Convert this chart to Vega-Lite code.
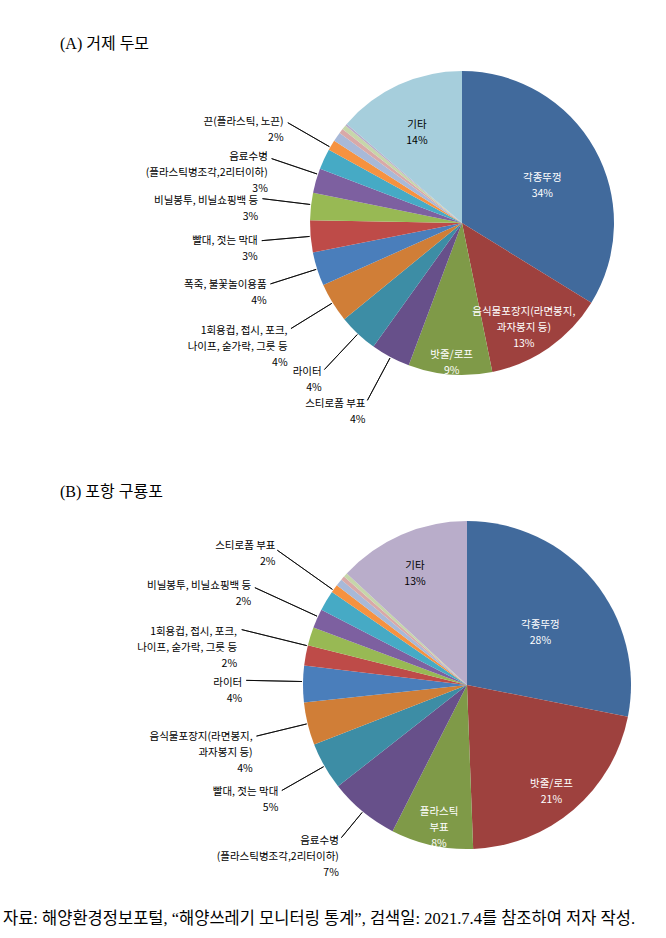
{
  "$schema": "https://vega.github.io/schema/vega-lite/v6.json",
  "padding": {"left": 3, "top": 36, "right": 5, "bottom": 5},
  "background": "#ffffff",
  "bounds": "flush",
  "spacing": 146,
  "config": {"view": {"stroke": null}},
  "title": {
    "text": "자료: 해양환경정보포털, “해양쓰레기 모니터링 통계”, 검색일: 2021.7.4를 참조하여 저자 작성.",
    "orient": "bottom", "anchor": "start", "frame": "group",
    "dx": -297, "offset": 33,
    "font": "Liberation Serif, Noto Sans CJK KR", "fontSize": 16.5, "fontWeight": "normal", "color": "#000000"
  },
  "vconcat": [
    {
      "width": 324, "height": 304,
      "title": {"text": "(A) 거제 두모", "anchor": "start", "frame": "group", "dx": -240, "offset": 18,
        "font": "Liberation Serif, Noto Sans CJK KR", "fontSize": 16, "fontWeight": "normal", "color": "#000000"},
      "data": {"values": [
        {"order": 1, "category": "각종뚜껑", "value": 33.8, "label": "각종뚜껑\n34%"},
        {"order": 2, "category": "음식물포장지(라면봉지, 과자봉지 등)", "value": 13.0, "label": "음식물포장지(라면봉지,\n과자봉지 등)\n13%"},
        {"order": 3, "category": "밧줄/로프", "value": 8.9, "label": "밧줄/로프\n9%"},
        {"order": 4, "category": "스티로폼 부표", "value": 4.2, "label": "스티로폼 부표\n4%"},
        {"order": 5, "category": "라이터", "value": 4.2, "label": "라이터\n4%"},
        {"order": 6, "category": "1회용컵, 접시, 포크, 나이프, 숟가락, 그릇 등", "value": 4.2, "label": "1회용컵, 접시, 포크,\n나이프, 숟가락, 그릇 등\n4%"},
        {"order": 7, "category": "폭죽, 불꽃놀이용품", "value": 3.6, "label": "폭죽, 불꽃놀이용품\n4%"},
        {"order": 8, "category": "빨대, 젓는 막대", "value": 3.4, "label": "빨대, 젓는 막대\n3%"},
        {"order": 9, "category": "비닐봉투, 비닐쇼핑백 등", "value": 2.9, "label": "비닐봉투, 비닐쇼핑백 등\n3%"},
        {"order": 10, "category": "음료수병(플라스틱병조각,2리터이하)", "value": 2.6, "label": "음료수병\n(플라스틱병조각,2리터이하)\n3%"},
        {"order": 11, "category": "끈(플라스틱, 노끈)", "value": 2.2, "label": "끈(플라스틱, 노끈)\n2%"},
        {"order": 12, "category": "소항목 1", "value": 1.1, "label": ""},
        {"order": 13, "category": "소항목 2", "value": 1.0, "label": ""},
        {"order": 14, "category": "소항목 3", "value": 0.5, "label": ""},
        {"order": 15, "category": "소항목 4", "value": 0.5, "label": ""},
        {"order": 16, "category": "소항목 5", "value": 0.2, "label": ""},
        {"order": 17, "category": "기타", "value": 13.7, "label": "기타\n14%"}
      ]},
      "encoding": {
        "theta": {"field": "value", "type": "quantitative", "stack": true},
        "order": {"field": "order", "type": "quantitative"}
      },
      "layer": [
        {
          "mark": {"type": "arc"},
          "encoding": {
            "color": {"field": "order", "type": "ordinal", "legend": null,
              "scale": {"domain": [1,2,3,4,5,6,7,8,9,10,11,12,13,14,15,16,17],
                "range": ["#416a9c","#9e413e","#7f9a48","#67508a","#3d8da5","#d07e37","#4a7ebb","#be4b48","#98b954","#7d60a0","#46aac5","#f69240","#a8b9d8","#d9a9a8","#c6d6aa","#b9adca","#a6cedc"]}}
          }
        },
        {
          "mark": {"type": "text", "radius": {"expr": "datum.value > 20 ? 92 : datum.value > 12 ? 108 : 132"}, "font": "Noto Sans CJK KR", "fontSize": 10.5, "lineBreak": "\n", "lineHeight": 16, "align": "center", "baseline": "middle"},
          "encoding": {
            "text": {"condition": {"test": "datum.value >= 7.5", "field": "label"}, "value": ""},
            "color": {"condition": {"test": "datum.category == '기타'", "value": "#000000"}, "value": "#ffffff"}
          }
        },
        {
          "mark": {"type": "arc", "radius": {"expr": "datum.value < 7.5 && datum.label != '' ? 201 : 153"}, "radius2": 153, "padAngle": 3.1, "filled": false, "stroke": "#000000", "strokeWidth": 0.8},
          "encoding": {
            "theta": {"field": "value", "type": "quantitative", "stack": true,
              "scale": {"domain": [0, 76.75, 81.9, 100], "range": [0, 4.8223, 5.2272, 6.9]}},
            "strokeOpacity": {"condition": {"test": "datum.value < 7.5 && datum.label != ''", "value": 1}, "value": 0}
          }
        },
        {
          "mark": {"type": "text", "radius": {"expr": "datum.value < 7.5 && datum.label != '' ? 205 : 100"}, "font": "Noto Sans CJK KR", "fontSize": 10.5, "lineBreak": "\n", "lineHeight": 16, "align": "right", "baseline": "middle", "color": "#000000"},
          "encoding": {
            "theta": {"field": "value", "type": "quantitative", "stack": true,
              "scale": {"domain": [0, 76.75, 81.9, 100], "range": [0, 4.8223, 5.2272, 6.9]}},
            "text": {"condition": {"test": "datum.value < 7.5", "field": "label"}, "value": ""}
          }
        }
      ],
      "resolve": {"scale": {"theta": "independent"}}
    },
    {
      "width": 334, "height": 328,
      "title": {"text": "(B) 포항 구룡포", "anchor": "start", "frame": "group", "dx": -240, "offset": 20,
        "font": "Liberation Serif, Noto Sans CJK KR", "fontSize": 16, "fontWeight": "normal", "color": "#000000"},
      "data": {"values": [
        {"order": 1, "category": "각종뚜껑", "value": 28.1, "label": "각종뚜껑\n28%"},
        {"order": 2, "category": "밧줄/로프", "value": 21.3, "label": "밧줄/로프\n21%"},
        {"order": 3, "category": "플라스틱 부표", "value": 8.1, "label": "플라스틱\n부표\n8%"},
        {"order": 4, "category": "음료수병(플라스틱병조각,2리터이하)", "value": 6.9, "label": "음료수병\n(플라스틱병조각,2리터이하)\n7%"},
        {"order": 5, "category": "빨대, 젓는 막대", "value": 4.7, "label": "빨대, 젓는 막대\n5%"},
        {"order": 6, "category": "음식물포장지(라면봉지, 과자봉지 등)", "value": 4.2, "label": "음식물포장지(라면봉지,\n과자봉지 등)\n4%"},
        {"order": 7, "category": "라이터", "value": 3.6, "label": "라이터\n4%"},
        {"order": 8, "category": "1회용컵, 접시, 포크, 나이프, 숟가락, 그릇 등", "value": 2.0, "label": "1회용컵, 접시, 포크,\n나이프, 숟가락, 그릇 등\n2%"},
        {"order": 9, "category": "비닐봉투, 비닐쇼핑백 등", "value": 1.8, "label": "비닐봉투, 비닐쇼핑백 등\n2%"},
        {"order": 10, "category": "스티로폼 부표", "value": 1.9, "label": "스티로폼 부표\n2%"},
        {"order": 11, "category": "소항목 1", "value": 2.0, "label": ""},
        {"order": 12, "category": "소항목 2", "value": 0.8, "label": ""},
        {"order": 13, "category": "소항목 3", "value": 0.7, "label": ""},
        {"order": 14, "category": "소항목 4", "value": 0.4, "label": ""},
        {"order": 15, "category": "소항목 5", "value": 0.4, "label": ""},
        {"order": 16, "category": "기타", "value": 13.1, "label": "기타\n13%"}
      ]},
      "encoding": {
        "theta": {"field": "value", "type": "quantitative", "stack": true},
        "order": {"field": "order", "type": "quantitative"}
      },
      "layer": [
        {
          "mark": {"type": "arc"},
          "encoding": {
            "color": {"field": "order", "type": "ordinal", "legend": null,
              "scale": {"domain": [1,2,3,4,5,6,7,8,9,10,11,12,13,14,15,16,17],
                "range": ["#416a9c","#9e413e","#7f9a48","#67508a","#3d8da5","#d07e37","#4a7ebb","#be4b48","#98b954","#7d60a0","#46aac5","#f69240","#a8b9d8","#d9a9a8","#c6d6aa","#b9adca","#a6cedc"]}}
          }
        },
        {
          "mark": {"type": "text", "radius": {"expr": "datum.value > 25 ? 95 : 130"}, "font": "Noto Sans CJK KR", "fontSize": 10.5, "lineBreak": "\n", "lineHeight": 16, "align": "center", "baseline": "middle"},
          "encoding": {
            "text": {"condition": {"test": "datum.value >= 7.5", "field": "label"}, "value": ""},
            "color": {"condition": {"test": "datum.category == '기타'", "value": "#000000"}, "value": "#ffffff"}
          }
        },
        {
          "mark": {"type": "arc", "radius": {"expr": "datum.value < 7.5 && datum.label != '' ? 246 - 7 * datum.value : 165"}, "radius2": 165, "padAngle": 3.1, "filled": false, "stroke": "#000000", "strokeWidth": 0.8},
          "encoding": {
            "theta": {"field": "value", "type": "quantitative", "stack": true,
              "scale": {"domain": [0, 75.1, 77.9, 81.65, 100], "range": [0, 4.7193, 4.9393, 5.3407, 6.894]}},
            "strokeOpacity": {"condition": {"test": "datum.value < 7.5 && datum.label != ''", "value": 1}, "value": 0}
          }
        },
        {
          "mark": {"type": "text", "radius": {"expr": "datum.value < 7.5 && datum.label != '' ? 250 - 7 * datum.value : 100"}, "font": "Noto Sans CJK KR", "fontSize": 10.5, "lineBreak": "\n", "lineHeight": 16, "align": "right", "baseline": "middle", "color": "#000000"},
          "encoding": {
            "theta": {"field": "value", "type": "quantitative", "stack": true,
              "scale": {"domain": [0, 75.1, 77.9, 81.65, 100], "range": [0, 4.7193, 4.9393, 5.3407, 6.894]}},
            "text": {"condition": {"test": "datum.value < 7.5", "field": "label"}, "value": ""}
          }
        }
      ],
      "resolve": {"scale": {"theta": "independent"}}
    }
  ]
}
